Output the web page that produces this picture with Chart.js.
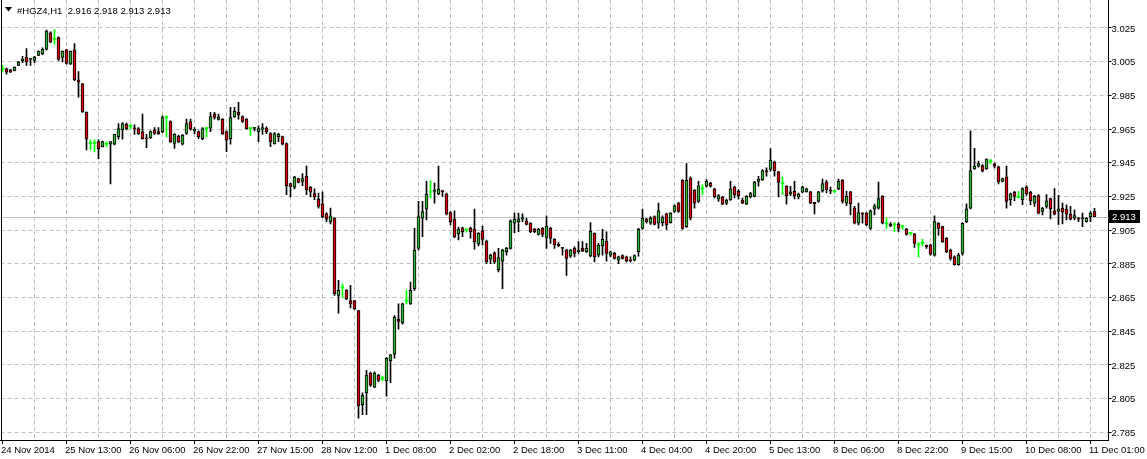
<!DOCTYPE html>
<html><head><meta charset="utf-8">
<script src="https://cdn.jsdelivr.net/npm/chart.js@4.4.0/dist/chart.umd.min.js"></script>
<style>html,body{margin:0;padding:0;background:#fff;overflow:hidden}canvas{display:block}</style>
</head><body>
<canvas id="c" width="1147" height="459"></canvas>
<script>
const symbolTitle = '#HGZ4,H1';
const tickLabels = ['24 Nov 2014','25 Nov 13:00','26 Nov 06:00','26 Nov 22:00','27 Nov 15:00','28 Nov 12:00','1 Dec 08:00','2 Dec 02:00','2 Dec 18:00','3 Dec 11:00','4 Dec 04:00','4 Dec 20:00','5 Dec 13:00','8 Dec 06:00','8 Dec 22:00','9 Dec 15:00','10 Dec 08:00','11 Dec 01:00'];
const yTicks = [2.785,2.805,2.825,2.845,2.865,2.885,2.905,2.925,2.945,2.965,2.985,3.005,3.025];

const open = [3.0004,3.0008,3.0002,2.9998,3.0028,3.0056,3.0078,3.0064,3.0058,3.0088,3.0096,3.0124,3.0221,3.0183,3.0193,3.0076,3.0120,3.0036,3.0120,2.9942,
2.9918,2.9749,2.9564,2.9566,2.9576,2.9546,2.9560,2.9560,2.9560,2.9605,2.9647,2.9679,2.9665,2.9655,2.9653,2.9635,2.9595,2.9599,2.9645,2.9635,
2.9635,2.9719,2.9695,2.9565,2.9609,2.9560,2.9625,2.9695,2.9639,2.9635,2.9593,2.9653,2.9655,2.9739,2.9707,2.9709,2.9635,2.9593,2.9723,2.9749,
2.9725,2.9709,2.9653,2.9654,2.9635,2.9649,2.9655,2.9623,2.9564,2.9605,2.9605,2.9564,2.9326,2.9306,2.9356,2.9340,2.9370,2.9306,2.9267,2.9235,
2.9207,2.9147,2.9101,2.9121,2.8663,2.8707,2.8693,2.8633,2.8633,2.8573,2.8015,2.8085,2.8202,2.8119,2.8188,2.8168,2.8155,2.8274,2.8314,2.8523,
2.8499,2.8629,2.8613,2.8703,2.8942,2.9121,2.9175,2.9275,2.9280,2.9265,2.9285,2.9265,2.9155,2.9115,2.9028,2.9062,2.9052,2.9062,2.9056,2.8968,
2.9046,2.8986,2.8878,2.8916,2.8816,2.8866,2.8922,2.8942,2.9091,2.9101,2.9115,2.9105,2.9091,2.9055,2.9025,2.9061,2.9007,2.9061,2.8996,2.8966,
2.8942,2.8932,2.8896,2.8942,2.8922,2.8942,2.8922,2.8898,2.9031,2.8902,2.8956,2.8986,2.8902,2.8912,2.8872,2.8900,2.8892,2.8872,2.8872,2.8922,
2.9061,2.9115,2.9091,2.9131,2.9091,2.9095,2.9147,2.9095,2.9161,2.9211,2.9346,2.9071,2.9360,2.9287,2.9221,2.9295,2.9311,2.9330,2.9295,2.9235,
2.9247,2.9211,2.9231,2.9306,2.9281,2.9227,2.9205,2.9247,2.9251,2.9340,2.9350,2.9404,2.9410,2.9454,2.9396,2.9325,2.9311,2.9265,2.9281,2.9247,
2.9275,2.9277,2.9277,2.9215,2.9221,2.9281,2.9336,2.9287,2.9281,2.9295,2.9346,2.9211,2.9277,2.9181,2.9091,2.9151,2.9151,2.9061,2.9175,2.9181,
2.9251,2.9087,2.9087,2.9081,2.9087,2.9071,2.9055,2.9031,2.9027,2.8962,2.8972,2.8962,2.8962,2.8902,2.9091,2.9071,2.9002,2.8932,2.8892,2.8846,
2.8912,2.9101,2.9181,2.9414,2.9430,2.9434,2.9414,2.9456,2.9444,2.9426,2.9340,2.9366,2.9231,2.9275,2.9245,2.9231,2.9306,2.9275,2.9211,2.9255,
2.9161,2.9191,2.9237,2.9165,2.9161,2.9181,2.9175,2.9145,2.9121,2.9121,2.9118,2.9101,2.9131,2.916];
const high = [3.0028,3.0012,3.0004,3.0020,3.0052,3.0082,3.0128,3.0068,3.0082,3.0114,3.0132,3.0237,3.0227,3.0241,3.0197,3.0114,3.0124,3.0114,3.0158,2.9992,
2.9922,2.9753,2.9586,2.9586,2.9586,2.9579,2.9574,2.9576,2.9619,2.9683,2.9689,2.9685,2.9679,2.9675,2.9659,2.9739,2.9619,2.9639,2.9659,2.9659,
2.9729,2.9729,2.9699,2.9623,2.9615,2.9617,2.9709,2.9709,2.9659,2.9639,2.9659,2.9659,2.9749,2.9749,2.9739,2.9713,2.9639,2.9779,2.9779,2.9809,
2.9729,2.9713,2.9659,2.9659,2.9669,2.9683,2.9663,2.9629,2.9629,2.9625,2.9609,2.9568,2.9330,2.9370,2.9358,2.9386,2.9430,2.9310,2.9295,2.9271,
2.9277,2.9155,2.9181,2.9125,2.8752,2.8732,2.8697,2.8723,2.8633,2.8573,2.8085,2.8218,2.8208,2.8210,2.8194,2.8184,2.8294,2.8314,2.8543,2.8613,
2.8617,2.8693,2.8742,2.9061,2.9221,2.9221,2.9340,2.9344,2.9330,2.9430,2.9285,2.9271,2.9161,2.9165,2.9068,2.9068,2.9056,2.9068,2.9175,2.9036,
2.9075,2.8992,2.8908,2.8922,2.8942,2.8936,2.8948,2.9111,2.9151,2.9151,2.9147,2.9121,2.9095,2.9061,2.9061,2.9065,2.9135,2.9067,2.9001,2.8976,
2.8948,2.8936,2.8936,2.8952,2.8982,2.8982,2.8972,2.9095,2.9035,2.8972,2.9055,2.9041,2.8926,2.8918,2.8896,2.8904,2.8896,2.8892,2.8904,2.9061,
2.9175,2.9121,2.9131,2.9135,2.9211,2.9135,2.9151,2.9155,2.9201,2.9215,2.9350,2.9446,2.9366,2.9291,2.9340,2.9321,2.9350,2.9334,2.9299,2.9261,
2.9251,2.9235,2.9340,2.9310,2.9291,2.9241,2.9255,2.9275,2.9340,2.9370,2.9410,2.9420,2.9534,2.9460,2.9400,2.9366,2.9315,2.9311,2.9340,2.9271,
2.9310,2.9300,2.9281,2.9215,2.9281,2.9354,2.9346,2.9306,2.9287,2.9354,2.9350,2.9281,2.9281,2.9191,2.9211,2.9155,2.9155,2.9171,2.9205,2.9336,
2.9255,2.9121,2.9095,2.9095,2.9095,2.9077,2.9061,2.9035,2.9031,2.8976,2.8996,2.8962,2.8968,2.9135,2.9095,2.9075,2.9006,2.8938,2.8898,2.8912,
2.9095,2.9207,2.9639,2.9536,2.9460,2.9440,2.9474,2.9470,2.9448,2.9430,2.9360,2.9430,2.9271,2.9281,2.9281,2.9301,2.9314,2.9281,2.9257,2.9261,
2.9185,2.9261,2.9241,2.9297,2.9257,2.9211,2.9201,2.9191,2.9171,2.9125,2.9151,2.9125,2.9161,2.918];
const low = [2.9988,2.9976,2.9986,2.9996,3.0026,3.0044,3.0028,3.0028,3.0044,3.0086,3.0092,3.0118,3.0163,3.0154,3.0058,3.0048,3.0036,3.0034,2.9938,2.9839,
2.9749,2.9526,2.9526,2.9514,2.9474,2.9544,2.9544,2.9324,2.9556,2.9590,2.9590,2.9645,2.9651,2.9619,2.9619,2.9590,2.9540,2.9595,2.9619,2.9619,
2.9629,2.9603,2.9571,2.9536,2.9569,2.9556,2.9619,2.9643,2.9623,2.9593,2.9587,2.9603,2.9635,2.9709,2.9703,2.9619,2.9516,2.9560,2.9719,2.9709,
2.9689,2.9649,2.9613,2.9639,2.9576,2.9619,2.9623,2.9546,2.9560,2.9576,2.9556,2.9261,2.9247,2.9295,2.9330,2.9314,2.9261,2.9247,2.9231,2.9181,
2.9125,2.9101,2.9087,2.8663,2.8557,2.8649,2.8637,2.8589,2.8579,2.7935,2.7955,2.7955,2.8123,2.8115,2.8151,2.8155,2.8065,2.8145,2.8290,2.8463,
2.8493,2.8613,2.8609,2.8693,2.8932,2.9012,2.9111,2.9241,2.9211,2.9261,2.9251,2.9141,2.9081,2.9006,2.8992,2.9012,2.9038,2.9002,2.8938,2.8956,
2.8962,2.8852,2.8852,2.8852,2.8802,2.8703,2.8902,2.8938,2.9035,2.9041,2.9101,2.9081,2.9035,2.9035,2.9021,2.9011,2.8942,2.8972,2.8942,2.8952,
2.8902,2.8782,2.8888,2.8892,2.8912,2.8922,2.8918,2.8892,2.8862,2.8892,2.8902,2.8866,2.8892,2.8878,2.8852,2.8878,2.8862,2.8862,2.8868,2.8896,
2.9055,2.9091,2.9085,2.9081,2.9061,2.9075,2.9055,2.9091,2.9155,2.9155,2.9055,2.9067,2.9111,2.9181,2.9215,2.9261,2.9306,2.9306,2.9241,2.9221,
2.9201,2.9201,2.9227,2.9241,2.9235,2.9207,2.9201,2.9241,2.9247,2.9311,2.9346,2.9370,2.9400,2.9370,2.9247,2.9261,2.9205,2.9255,2.9235,2.9235,
2.9271,2.9275,2.9207,2.9147,2.9217,2.9275,2.9271,2.9267,2.9271,2.9291,2.9211,2.9195,2.9141,2.9087,2.9081,2.9091,2.9077,2.9055,2.9141,2.9175,
2.9087,2.9061,2.9071,2.9041,2.9041,2.9055,2.9021,2.9021,2.8948,2.8892,2.8956,2.8942,2.8902,2.8896,2.9021,2.8978,2.8916,2.8872,2.8842,2.8842,
2.8902,2.9095,2.9177,2.9410,2.9424,2.9396,2.9410,2.9444,2.9420,2.9324,2.9336,2.9181,2.9197,2.9225,2.9241,2.9201,2.9257,2.9201,2.9191,2.9147,
2.9141,2.9181,2.9117,2.9141,2.9085,2.9087,2.9111,2.9111,2.9111,2.9101,2.9071,2.9097,2.9101,2.913];
const close = [3.0004,2.9988,2.9988,3.0018,3.0048,3.0066,3.0048,3.0066,3.0078,3.0112,3.0124,3.0231,3.0167,3.0183,3.0064,3.0112,3.0040,3.0112,2.9944,2.9928,
2.9753,2.9590,2.9564,2.9566,2.9534,2.9576,2.9560,2.9576,2.9619,2.9653,2.9683,2.9653,2.9665,2.9651,2.9623,2.9593,2.9591,2.9635,2.9625,2.9623,
2.9719,2.9719,2.9576,2.9619,2.9576,2.9615,2.9683,2.9649,2.9649,2.9603,2.9653,2.9653,2.9725,2.9719,2.9723,2.9623,2.9585,2.9719,2.9755,2.9735,
2.9695,2.9653,2.9653,2.9656,2.9653,2.9659,2.9635,2.9576,2.9623,2.9619,2.9560,2.9314,2.9310,2.9366,2.9334,2.9356,2.9290,2.9275,2.9247,2.9191,
2.9131,2.9115,2.9135,2.8673,2.8693,2.8707,2.8643,2.8613,2.8583,2.8009,2.8071,2.8190,2.8131,2.8202,2.8158,2.8168,2.8290,2.8310,2.8533,2.8509,
2.8613,2.8629,2.8693,2.8932,2.9131,2.9161,2.9265,2.9275,2.9284,2.9295,2.9277,2.9147,2.9101,2.9012,2.9056,2.9042,2.9052,2.9042,2.8982,2.9032,
2.8996,2.8862,2.8902,2.8862,2.8888,2.8932,2.8942,2.9105,2.9115,2.9117,2.9125,2.9085,2.9041,2.9041,2.9055,2.9025,2.9075,2.9001,2.8962,2.8958,
2.8944,2.8882,2.8932,2.8912,2.8932,2.8926,2.8942,2.9045,2.8892,2.8962,2.8996,2.8912,2.8922,2.8882,2.8892,2.8882,2.8866,2.8868,2.8900,2.9055,
2.9121,2.9101,2.9121,2.9085,2.9165,2.9125,2.9081,2.9151,2.9195,2.9161,2.9061,2.9346,2.9121,2.9211,2.9314,2.9295,2.9340,2.9311,2.9247,2.9255,
2.9205,2.9227,2.9295,2.9261,2.9255,2.9211,2.9251,2.9267,2.9334,2.9354,2.9404,2.9396,2.9466,2.9404,2.9334,2.9325,2.9255,2.9277,2.9255,2.9265,
2.9306,2.9295,2.9211,2.9207,2.9277,2.9326,2.9291,2.9281,2.9281,2.9340,2.9221,2.9251,2.9207,2.9091,2.9155,2.9145,2.9081,2.9165,2.9195,2.9237,
2.9091,2.9087,2.9075,2.9081,2.9061,2.9071,2.9025,2.9031,2.8972,2.8962,2.8972,2.8952,2.8908,2.9101,2.9061,2.8982,2.8922,2.8882,2.8846,2.8902,
2.9091,2.9177,2.9404,2.9430,2.9446,2.9400,2.9470,2.9456,2.9430,2.9336,2.9356,2.9221,2.9266,2.9251,2.9245,2.9297,2.9265,2.9225,2.9251,2.9151,
2.9181,2.9225,2.9177,2.9145,2.9177,2.9157,2.9145,2.9115,2.9137,2.9115,2.9121,2.9121,2.9151,2.913];

const SLOTS = 277;            // visible bar slots in the window
const BARS_PER_GRID = 8;
const BARS_PER_LABEL = 16;
const categories = Array.from({length: SLOTS}, (_, i) => String(i));

const BULL = '#32b432', BEAR = '#e00000', DOJI = '#00ff00';
const FONT = '"Liberation Sans", Arial, sans-serif';
const FONT_SIZE = 9.5;
const last = close.length - 1;
const lastPrice = close[last];

const wickData = low.map((l, i) => [l, high[i]]);
const bodyData = open.map((o, i) => [o, close[i]]);
const bodyColor = open.map((o, i) => o === close[i] ? DOJI : (close[i] > o ? BULL : BEAR));
const bodyBorderW = open.map((o, i) => o === close[i] ? 0 : 1);
const wickColor = open.map((o, i) => o === close[i] ? DOJI : '#000000');

const Y_MAX = 3.025 + 28 / 1685;
const Y_MIN = 3.025 - 412 / 1685;

const decor = {
  id: 'decor',
  beforeDatasetsDraw(chart) {
    const {ctx, chartArea: a, scales: {y}} = chart;
    const py = Math.round(y.getPixelForValue(lastPrice)) + 0.5;
    ctx.save();
    ctx.strokeStyle = '#c0c0c0';
    ctx.lineWidth = 1;
    ctx.beginPath(); ctx.moveTo(a.left, py); ctx.lineTo(a.right, py); ctx.stroke();
    ctx.restore();
  },
  afterDraw(chart) {
    const {ctx, chartArea: a, scales: {y}} = chart;
    ctx.save();
    ctx.fillStyle = '#000';
    ctx.fillRect(1, 0, 1, Math.round(a.bottom));
    ctx.beginPath(); ctx.moveTo(5, 7); ctx.lineTo(12, 7); ctx.lineTo(8.5, 11.5); ctx.closePath(); ctx.fill();
    ctx.font = FONT_SIZE + 'px ' + FONT;
    ctx.textBaseline = 'alphabetic';
    ctx.textAlign = 'left';
    const hdr = symbolTitle + '  ' + [open[last], high[last], low[last], close[last]].map(v => v.toFixed(3)).join(' ');
    ctx.fillText(hdr, 17, 14);
    const py = Math.round(y.getPixelForValue(lastPrice));
    ctx.fillStyle = '#000';
    ctx.fillRect(Math.round(a.right), py - 7, 31, 13);
    ctx.fillStyle = '#fff';
    ctx.textBaseline = 'middle';
    ctx.fillText(lastPrice.toFixed(3), Math.round(a.right) + 3, py);
    ctx.restore();
  }
};

new Chart(document.getElementById('c'), {
  type: 'bar',
  data: {
    labels: categories,
    datasets: [
      { data: wickData, backgroundColor: wickColor, barThickness: 1, grouped: false, order: 2, borderWidth: 0, borderSkipped: false },
      { data: bodyData, backgroundColor: bodyColor, borderColor: '#000000', borderWidth: bodyBorderW, barThickness: 3, minBarLength: 1, grouped: false, order: 1, borderSkipped: false }
    ]
  },
  options: {
    responsive: false, animation: false, devicePixelRatio: 1,
    layout: { padding: { left: 0.5, top: 0, right: 0, bottom: 0 } },
    plugins: { legend: { display: false }, tooltip: { enabled: false }, title: { display: false } },
    scales: {
      x: {
        type: 'category', offset: true,
        afterBuildTicks: s => { s.ticks = s.ticks.filter(t => t.value % BARS_PER_GRID === 0); },
        afterFit: s => { s.height = 19; s.paddingLeft = 0; s.paddingRight = 0; },
        ticks: {
          autoSkip: false, maxRotation: 0, minRotation: 0, align: 'start', padding: 1, labelOffset: -1.5,
          color: '#000', font: { family: FONT, size: FONT_SIZE },
          callback: v => v % BARS_PER_LABEL === 0 ? (tickLabels[v / BARS_PER_LABEL] || '') : ''
        },
        grid: {
          offset: false, lineWidth: 1, tickLength: 4,
          color: c => (c.tick && c.tick.value === 0) ? 'rgba(0,0,0,0)' : '#c0c0c0',
          tickColor: c => (c.tick && c.tick.value % BARS_PER_LABEL === 0) ? '#000' : 'rgba(0,0,0,0)'
        },
        border: { display: true, color: '#000', width: 1, dash: [4, 3] }
      },
      y: {
        type: 'linear', position: 'right', min: Y_MIN, max: Y_MAX,
        afterBuildTicks: s => { s.ticks = yTicks.map(v => ({ value: v })); },
        afterFit: s => { s.width = 38.5; s.paddingTop = 0; s.paddingBottom = 0; },
        ticks: { color: '#000', font: { family: FONT, size: FONT_SIZE }, padding: 0, labelOffset: 1, callback: v => Number(v).toFixed(3) },
        grid: { color: '#c0c0c0', lineWidth: 1, tickLength: 3, tickColor: '#000' },
        border: { display: true, color: '#000', width: 1, dash: [4, 3] }
      }
    }
  },
  plugins: [decor]
});
</script>
</body></html>
